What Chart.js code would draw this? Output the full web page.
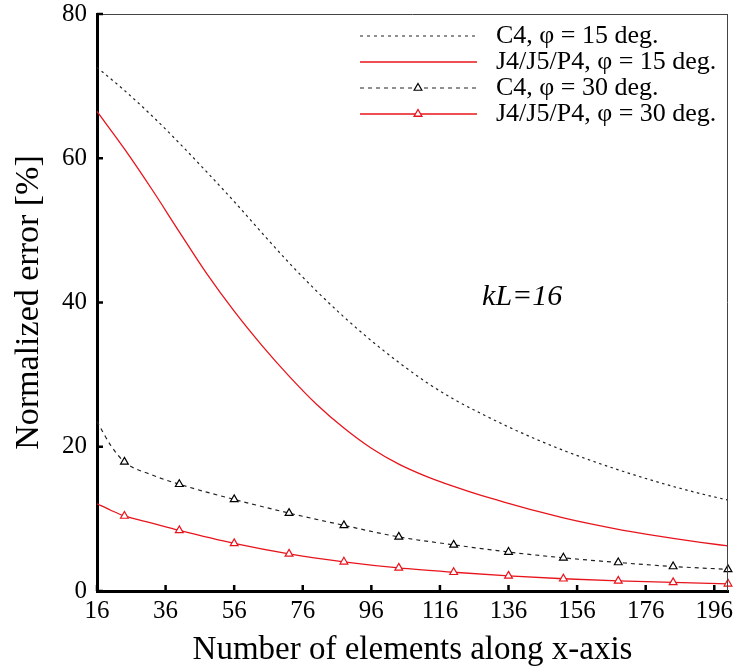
<!DOCTYPE html>
<html>
<head>
<meta charset="utf-8">
<script src="https://cdn.jsdelivr.net/npm/chart.js@4.4.1/dist/chart.umd.min.js"></script>
<style>
  html, body { margin: 0; padding: 0; background: #fff; }
</style>
</head>
<body>
<canvas id="chart" width="736" height="672"></canvas>
<script>
// Datos
const xDense = [16, 24, 32, 40, 48, 56, 64, 72, 80, 88, 96, 104, 112, 120, 128, 136, 144, 152, 160, 168, 176, 184, 192, 200];
const c4At15 = [72.6, 69.4, 65.9, 62.1, 58.1, 54.0, 49.7, 45.5, 41.6, 38.0, 34.7, 31.7, 28.95, 26.6, 24.6, 22.75, 21.05, 19.5, 18.1, 16.8, 15.6, 14.5, 13.5, 12.6];
const jpAt15 = [66.5, 61.3, 55.7, 49.8, 44.0, 38.8, 34.1, 29.8, 25.9, 22.6, 19.8, 17.6, 15.9, 14.5, 13.25, 12.15, 11.1, 10.15, 9.3, 8.55, 7.9, 7.3, 6.75, 6.25];
const xMarked = [16, 20, 24, 32, 40, 56, 72, 88, 104, 120, 136, 152, 168, 184, 200];
const hasMark = [false, false, true, false, true, true, true, true, true, true, true, true, true, true, true];
const c4At30 = [23.5, 20.2, 17.9, 16.1, 14.8, 12.7, 10.8, 9.1, 7.5, 6.4, 5.4, 4.6, 3.95, 3.4, 3.0];
const jpAt30 = [12.1, 11.2, 10.4, 9.4, 8.4, 6.6, 5.15, 4.05, 3.2, 2.6, 2.1, 1.7, 1.4, 1.2, 1.0];
const xTicks = [16, 36, 56, 76, 96, 116, 136, 156, 176, 196];
const yTicks = [0, 20, 40, 60, 80];
const seriesLabels = ["C4, φ = 15 deg.", "J4/J5/P4, φ = 15 deg.", "C4, φ = 30 deg.", "J4/J5/P4, φ = 30 deg."];

const serif = '"Liberation Serif", "Times New Roman", serif';
const red = "rgb(232, 20, 28)";
const dark = "#222";

const pts = (xs, ys) => xs.map((x, i) => ({ x: x, y: ys[i] }));
const markRadius = hasMark.map((m) => (m ? 4.5 : 0));

// Ticks hacia adentro, marco y anotacion
const framePlugin = {
  id: "frame",
  afterDraw(chart) {
    const ctx = chart.ctx;
    const a = chart.chartArea;
    const xs = chart.scales.x;
    const ys = chart.scales.y;
    ctx.save();
    ctx.strokeStyle = "#444";
    ctx.lineWidth = 1;
    ctx.beginPath();
    ctx.moveTo(a.left, a.top + 0.5);
    ctx.lineTo(a.right, a.top + 0.5);
    ctx.moveTo(a.right - 0.5, a.top);
    ctx.lineTo(a.right - 0.5, a.bottom);
    ctx.stroke();

    ctx.strokeStyle = "#000";
    ctx.lineWidth = 2.5;
    ctx.beginPath();
    xTicks.forEach((v) => {
      const px = xs.getPixelForValue(v);
      ctx.moveTo(px, a.bottom);
      ctx.lineTo(px, a.bottom - 6);
    });
    yTicks.forEach((v) => {
      const py = ys.getPixelForValue(v);
      ctx.moveTo(a.left, py);
      ctx.lineTo(a.left + 6, py);
    });
    ctx.stroke();

    ctx.fillStyle = "#000";
    ctx.font = "italic 30px " + serif;
    ctx.textAlign = "center";
    ctx.textBaseline = "middle";
    ctx.fillText("kL=16", xs.getPixelForValue(140), ys.getPixelForValue(40.8));
    ctx.restore();
  },
};

// Leyenda propia (linea larga con marcador al centro)
const legendPlugin = {
  id: "customLegend",
  afterDraw(chart) {
    const ctx = chart.ctx;
    ctx.save();
    chart.data.datasets.forEach((ds, i) => {
      const yRow = 36 + i * 26;
      ctx.strokeStyle = ds.borderColor;
      ctx.lineWidth = ds.borderWidth;
      ctx.setLineDash(ds.legendDash || []);
      ctx.beginPath();
      ctx.moveTo(360, yRow);
      ctx.lineTo(477, yRow);
      ctx.stroke();
      ctx.setLineDash([]);
      if (ds.showMark) {
        ctx.fillStyle = "#fff";
        ctx.strokeStyle = ds.pointBorderColor;
        Chart.helpers.drawPoint(ctx, { pointStyle: "triangle", radius: 4.5, borderWidth: 1.2, rotation: 0 }, 418, yRow);
      }
      ctx.fillStyle = "#000";
      ctx.font = "26px " + serif;
      ctx.textAlign = "left";
      ctx.textBaseline = "middle";
      ctx.fillText(ds.label, 496, yRow);
    });
    ctx.restore();
  },
};

new Chart(document.getElementById("chart"), {
  type: "line",
  data: {
    datasets: [
      {
        label: seriesLabels[0],
        data: pts(xDense, c4At15),
        borderColor: dark,
        borderWidth: 1.2,
        borderDash: [2.5, 3.5],
        legendDash: [3, 4],
        pointRadius: 0,
        cubicInterpolationMode: "monotone",
      },
      {
        label: seriesLabels[1],
        data: pts(xDense, jpAt15),
        borderColor: red,
        borderWidth: 1.3,
        pointRadius: 0,
        cubicInterpolationMode: "monotone",
      },
      {
        label: seriesLabels[2],
        data: pts(xMarked, c4At30),
        borderColor: dark,
        borderWidth: 1.2,
        borderDash: [4, 4],
        legendDash: [4, 4],
        pointStyle: "triangle",
        pointRadius: markRadius,
        pointBorderWidth: 1.2,
        pointBackgroundColor: "#fff",
        pointBorderColor: "#000",
        showMark: true,
        cubicInterpolationMode: "monotone",
      },
      {
        label: seriesLabels[3],
        data: pts(xMarked, jpAt30),
        borderColor: red,
        borderWidth: 1.3,
        pointStyle: "triangle",
        pointRadius: markRadius,
        pointBorderWidth: 1.2,
        pointBackgroundColor: "#fff",
        pointBorderColor: red,
        showMark: true,
        cubicInterpolationMode: "monotone",
      },
    ],
  },
  options: {
    responsive: false,
    animation: false,
    clip: false,
    layout: { padding: { top: 14, right: 8, left: 0, bottom: 0 } },
    plugins: {
      legend: { display: false },
      tooltip: { enabled: false },
    },
    scales: {
      x: {
        type: "linear",
        min: 16,
        max: 200,
        afterBuildTicks: (scale) => {
          scale.ticks = xTicks.map((v) => ({ value: v }));
        },
        afterFit: (scale) => {
          scale.height = 81;
          scale.paddingLeft = 0;
          scale.paddingRight = 0;
        },
        grid: { display: false, drawTicks: false },
        border: { color: "#000", width: 3 },
        ticks: {
          color: "#000",
          padding: 5,
          maxRotation: 0,
          autoSkip: false,
          font: { family: serif, size: 25 },
        },
        title: {
          display: true,
          text: "Number of elements along x-axis",
          color: "#000",
          font: { family: serif, size: 33 },
          padding: { top: 0, bottom: 2 },
        },
      },
      y: {
        min: 0,
        max: 80,
        afterBuildTicks: (scale) => {
          scale.ticks = yTicks.map((v) => ({ value: v }));
        },
        afterFit: (scale) => {
          scale.width = 97;
          scale.paddingTop = 0;
          scale.paddingBottom = 0;
        },
        grid: { display: false, drawTicks: false },
        border: { color: "#000", width: 3 },
        ticks: {
          color: "#000",
          padding: 10,
          font: { family: serif, size: 25 },
        },
        title: {
          display: true,
          text: "Normalized error [%]",
          color: "#000",
          font: { family: serif, size: 34 },
          padding: { top: 9, bottom: 0 },
        },
      },
    },
  },
  plugins: [framePlugin, legendPlugin],
});
</script>
</body>
</html>
